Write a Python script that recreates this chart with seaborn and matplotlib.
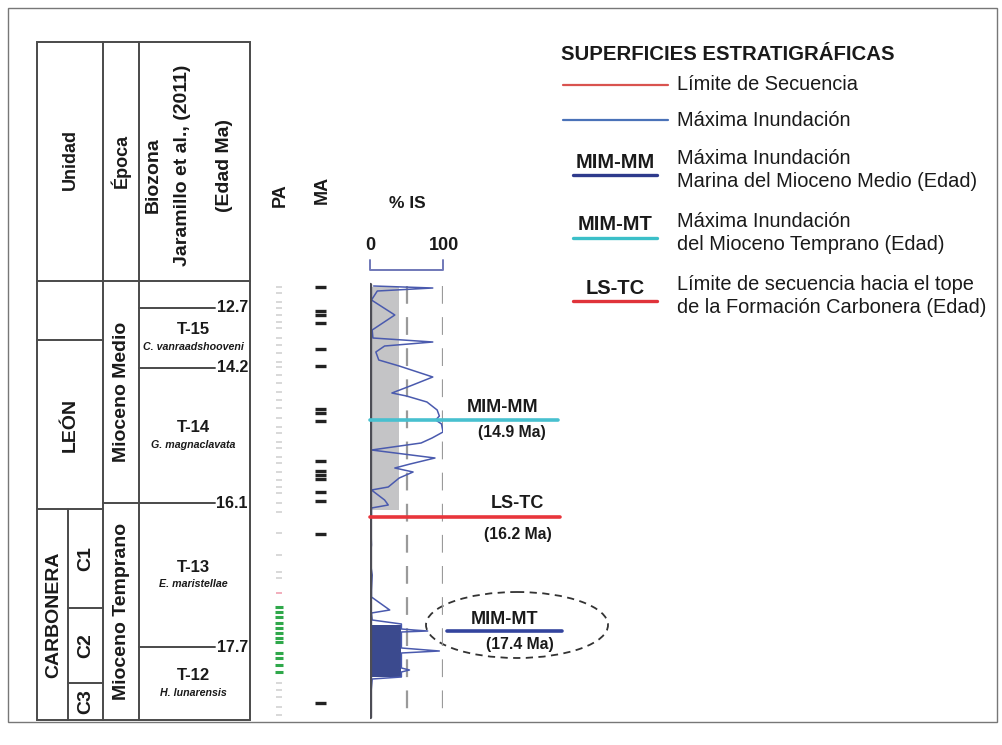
import numpy as np
import pandas as pd
import matplotlib
matplotlib.use("Agg")
import matplotlib.pyplot as plt
from matplotlib.patches import Ellipse, Rectangle
import seaborn as sns

# -------------------------------
# Data (depth = relative position below top of the section)
# -------------------------------

unidad_names = ["", "LEÓN", "CARBONERA"]
unidad_tops = [0, 59, 228]
miembro_names = ["C1", "C2", "C3"]
miembro_tops = [228, 327, 402]
section_base = 439

epoca_names = ["Mioceno Medio", "Mioceno Temprano"]
epoca_tops = [0, 222]

bio_ages = [12.7, 14.2, 16.1, 17.7]
bio_depths = [27, 87, 222, 366]
zone_names = ["T-15", "T-14", "T-13", "T-12"]
zone_species = ["C. vanraadshooveni", "G. magnaclavata", "E. maristellae", "H. lunarensis"]

is_depth = [5, 7, 10, 19, 34, 49, 57, 61, 65, 71, 79, 85, 96, 105, 112, 115, 121, 129,
            135, 139, 143, 151, 157, 162, 169, 177, 183, 187, 191, 197, 206, 209, 219,
            224, 227, 234, 244, 264, 279, 294, 309, 316, 329, 332, 339, 343, 348, 349,
            350, 351, 367, 370, 372, 387, 389, 391, 396, 398, 414, 434]
is_pct = [5, 86, 10, 2, 34, 3, 4, 86, 20, 8, 12, 40, 86, 55, 30, 50, 78, 92,
          95, 90, 98, 100, 85, 70, 2, 89, 55, 34, 59, 40, 25, 2, 20,
          25, 2, 2, 1, 2, 0, 3, 2, 2, 27, 2, 3, 43, 43, 60,
          79, 43, 43, 95, 43, 43, 54, 43, 43, 3, 1, 0]
shade_depth = [6, 229]
shade_pct = 40
block_depth = [344, 396]
block_pct = 43

ma_depths = [6, 30, 34, 42, 68, 85, 128, 132, 140, 180, 190, 194, 198, 211, 220, 253, 422]
pa_gray = [6, 12, 21, 27, 34, 41, 47, 57, 64, 72, 81, 86, 94, 102, 111, 119, 127, 137,
           146, 152, 161, 167, 176, 182, 191, 199, 206, 212, 222, 231, 252, 274, 291,
           297, 402, 409, 416, 426, 434]
pa_green = [326, 331, 336, 342, 347, 352, 357, 361, 372, 377, 384, 391]
pa_pink = [312]

surf_names = ["MIM-MM", "LS-TC", "MIM-MT"]
surf_ages = ["(14.9 Ma)", "(16.2 Ma)", "(17.4 Ma)"]
surf_depths = [139, 236, 350]
surf_colors = ["#48c0cf", "#e8353b", "#33449e"]

legend_lines = ["Límite de Secuencia", "Máxima Inundación"]
legend_line_colors = ["#d9534f", "#4a72b8"]
legend_codes = ["MIM-MM", "MIM-MT", "LS-TC"]
legend_code_colors = ["#2e3a8c", "#3bbfc8", "#e0333a"]
legend_texts = ["Máxima Inundación\nMarina del Mioceno Medio (Edad)",
                "Máxima Inundación\ndel Mioceno Temprano (Edad)",
                "Límite de secuencia hacia el tope\nde la Formación Carbonera (Edad)"]

# -------------------------------
# Figure setup
# -------------------------------

sns.set_style("white")
plt.rcParams['font.family'] = ['Liberation Sans', 'DejaVu Sans']
TXT = "#1a1a1a"
LINE = "#4a4a4a"

fig = plt.figure(figsize=(10.02, 7.45), dpi=100)
ax = fig.add_axes([0, 0, 1, 1])
ax.set_xlim(0, 1002)
ax.set_ylim(745, 0)
ax.axis("off")

Y0 = 281  # top of the section body


def Y(d):
    return Y0 + d


# outer frame
ax.add_patch(Rectangle((8, 8), 989, 714, fill=False, ec="#777777", lw=1))

# -------------------------------
# Table
# -------------------------------

xl, xu, xe, xb, xr = 37, 103, 139, 250, 68
ytop = 42
ax.add_patch(Rectangle((xl, ytop), xb - xl, Y(section_base) - ytop, fill=False, ec=LINE, lw=1.4))
for x in [xu, xe]:
    ax.plot([x, x], [ytop, Y(section_base)], color=LINE, lw=1.4)
ax.plot([xl, xb], [Y(0), Y(0)], color=LINE, lw=1.4)

big = dict(rotation=90, ha="center", va="center", fontsize=14, fontweight="bold", color=TXT)

# Unidad
for t in unidad_tops[1:]:
    ax.plot([xl, xu], [Y(t), Y(t)], color=LINE, lw=1.4)
ax.plot([xr, xr], [Y(unidad_tops[2]), Y(section_base)], color=LINE, lw=1.4)
ax.text((xl + xu) / 2, Y((unidad_tops[1] + unidad_tops[2]) / 2), unidad_names[1], **big)
ax.text((xl + xr) / 2 + 1, Y((unidad_tops[2] + section_base) / 2), unidad_names[2], **big)
m_bounds = miembro_tops + [section_base]
for i, name in enumerate(miembro_names):
    if i > 0:
        ax.plot([xr, xu], [Y(m_bounds[i]), Y(m_bounds[i])], color=LINE, lw=1.4)
    ax.text((xr + xu) / 2, Y((m_bounds[i] + m_bounds[i + 1]) / 2), name, **big)

# Epoca
e_bounds = epoca_tops + [section_base]
for i, name in enumerate(epoca_names):
    if i > 0:
        ax.plot([xu, xe], [Y(e_bounds[i]), Y(e_bounds[i])], color=LINE, lw=1.4)
    ax.text((xu + xe) / 2 + 1, Y((e_bounds[i] + e_bounds[i + 1]) / 2), name, **big)

# Biozonas
z_bounds = bio_depths + [section_base]
for age, d in zip(bio_ages, bio_depths):
    ax.plot([xe, 215], [Y(d), Y(d)], color=LINE, lw=1.4)
    ax.text(248, Y(d), f"{age}", ha="right", va="center", fontsize=11.5,
            fontweight="bold", color=TXT)
for i, (zn, sp) in enumerate(zip(zone_names, zone_species)):
    yc = Y((z_bounds[i] + z_bounds[i + 1]) / 2)
    ax.text(193, yc - 8, zn, ha="center", va="center", fontsize=12,
            fontweight="bold", color=TXT)
    ax.text(193, yc + 9, sp, ha="center", va="center", fontsize=7.7,
            fontweight="bold", style="italic", color=TXT)

# header
hd = dict(rotation=90, ha="center", va="center", fontsize=13, fontweight="bold", color=TXT)
ax.text(70, 159, "Unidad", **hd)
ax.text(121, 161, "Época", **hd)
hd2 = dict(hd, fontsize=14)
ax.text(153, 175, "Biozona", **hd2)
ax.text(183, 165, "Jaramillo et al., (2011)", **hd2)
ax.text(225, 165, "(Edad Ma)", **hd2)
ax.text(280, 195, "PA", **hd)
ax.text(322, 190, "MA", **hd)

# -------------------------------
# PA / MA columns
# -------------------------------

ax.hlines([Y(d) for d in pa_gray], 276, 282, color="#d2d2d2", lw=1.2)
ax.hlines([Y(d) for d in pa_green], 275, 283, color="#2fa84a", lw=2.2)
ax.hlines([Y(d) for d in pa_pink], 276, 282, color="#f0a0b0", lw=1.2)
ax.hlines([Y(d) for d in ma_depths], 315, 326, color="#222222", lw=2.4)

# -------------------------------
# % IS curve
# -------------------------------

x0, x100 = 370, 443
ax_is = fig.add_axes([x0 / 1002, 1 - Y(section_base) / 745,
                      (x100 - x0) / 1002, section_base / 745])
ax_is.set_xlim(0, 100)
ax_is.set_ylim(section_base, 0)
ax_is.axis("off")
ax_is.patch.set_alpha(0)

ax_is.fill_betweenx(shade_depth, 0, shade_pct, color="#c4c4c6", lw=0)
ax_is.fill_betweenx(block_depth, 0, block_pct, color="#3b4a8e", lw=0)
for v in [50, 100]:
    ax_is.plot([v, v], [5, 434], color="#9a9a9a", lw=1.6, dashes=(8, 6))
df_is = pd.DataFrame({"pct": is_pct, "depth": is_depth})
sns.lineplot(data=df_is, x="pct", y="depth", sort=False, orient="y", estimator=None,
             color="#4a5aae", lw=1.1, ax=ax_is)
ax_is.plot([0, 0], [3, 436], color="#4d4d55", lw=2.4)

# scale bracket
ax_is.plot([0, 0, 100, 100], [-21, -11, -11, -21], color="#7078b8", lw=1.4, clip_on=False)
ax_is.text(0, -36, "0", ha="center", va="center", fontsize=13, fontweight="bold", color=TXT)
ax_is.text(102, -36, "100", ha="center", va="center", fontsize=13, fontweight="bold", color=TXT)
ax_is.text(51, -78, "% IS", ha="center", va="center", fontsize=12.5, fontweight="bold", color=TXT)

# surfaces
ax_is.plot([0, 258], [surf_depths[0]] * 2, color=surf_colors[0], lw=2.6, clip_on=False)
ax_is.plot([0, 260], [surf_depths[1]] * 2, color=surf_colors[1], lw=2.6, clip_on=False)
ax_is.plot([105, 263], [surf_depths[2]] * 2, color=surf_colors[2], lw=2.6, clip_on=False)

lab = dict(ha="center", va="center", fontsize=13, fontweight="bold", color=TXT)
age = dict(ha="center", va="center", fontsize=11.3, fontweight="bold", color=TXT)
ax.text(503, Y(surf_depths[0]) - 13, surf_names[0], **lab)
ax.text(512, Y(surf_depths[0]) + 13, surf_ages[0], **age)
ax.text(517, Y(surf_depths[1]) - 14, surf_names[1], **lab)
ax.text(518, Y(surf_depths[1]) + 18, surf_ages[1], **age)
ax.text(505, Y(surf_depths[2]) - 11, surf_names[2], **lab)
ax.text(520, Y(surf_depths[2]) + 14, surf_ages[2], **age)
ax.add_patch(Ellipse((517, Y(surf_depths[2]) - 6), 182, 66, fill=False,
                     ec="#333333", lw=1.3, ls=(0, (4, 3))))

# -------------------------------
# Legend
# -------------------------------

ax.text(561, 55, "SUPERFICIES ESTRATIGRÁFICAS", ha="left", va="center",
        fontsize=14.7, fontweight="bold", color=TXT)
for i, (lab_, col) in enumerate(zip(legend_lines, legend_line_colors)):
    yy = 85 + 35 * i
    ax.plot([563, 668], [yy, yy], color=col, lw=1.6)
    ax.text(677, yy, lab_, ha="left", va="center", fontsize=14.4, color=TXT)
for i, (code, col, txt) in enumerate(zip(legend_codes, legend_code_colors, legend_texts)):
    yy = 170 + 63 * i
    ax.text(615, yy - 8, code, ha="center", va="center", fontsize=14.5,
            fontweight="bold", color=TXT)
    ax.plot([573, 657], [yy + 5, yy + 5], color=col, lw=2.4)
    ax.text(677, yy, txt, ha="left", va="center", fontsize=14.4, color=TXT,
            linespacing=1.22)

fig.savefig("out.png", dpi=100)
